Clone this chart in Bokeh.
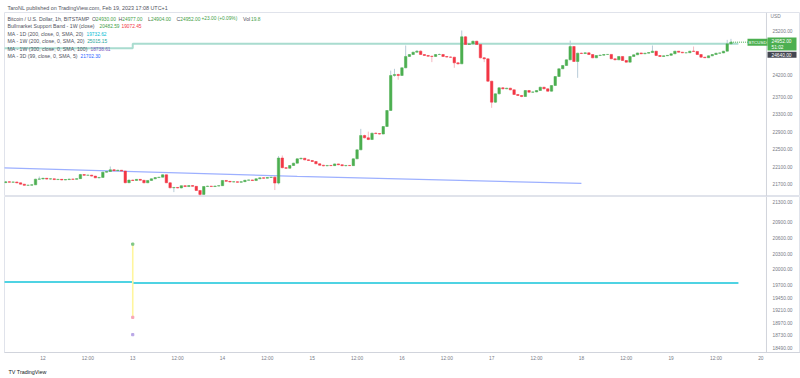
from bokeh.plotting import figure
from bokeh.layouts import column
from bokeh.models import (ColumnDataSource, Range1d, FixedTicker, Label, PrintfTickFormatter,
                          Title, Span)
from bokeh.embed import file_html
from bokeh.resources import INLINE

FONT = "Liberation Sans"
AX = "#787b86"
UP = "#4caf50"
DN = "#f23645"
UPW = "#b7cbd8"
DNW = "#f5b8c0"

# hours since 2023-02-12 00:00 (UTC+1), 1h candles BTCUSD Bitstamp
hours = list(range(-10, 185))
opens = [21730, 21750, 21740, 21745, 21725, 21695, 21668, 21672, 21680, 21810,
         21815, 21830, 21812, 21818, 21800, 21806, 21792, 21800, 21812, 21806,
         21822, 21915, 21898, 21902, 21880, 21840, 21850, 21970, 21985, 22025,
         22005, 22015, 21995, 21728, 21788, 21780, 21805, 21785, 21726, 21780,
         21818, 21846, 21855, 21910, 21726, 21612, 21620, 21608, 21660, 21640,
         21662, 21645, 21550, 21460, 21642, 21650, 21640, 21652, 21660, 21780,
         21760, 21745, 21750, 21738, 21752, 21785, 21792, 21778, 21818, 21840,
         21832, 21848, 21855, 21720, 22295, 22072, 22060, 22123, 22177, 22276,
         22290, 22253, 22238, 22215, 22162, 22130, 22115, 22125, 22120, 22160,
         22140, 22118, 22125, 22120, 22276, 22482, 22811, 22758, 22719, 22865,
         22855, 22845, 23018, 23385, 24188, 24211, 24188, 24364, 24624, 24669,
         24723, 24746, 24669, 24647, 24630, 24625, 24669, 24670, 24624, 24610,
         24608, 24478, 24455, 25075, 24899, 24914, 24975, 24899, 24593, 24570,
         24058, 23576, 23767, 23905, 23882, 23897, 23859, 23752, 23729, 23706,
         23844, 23805, 23810, 23844, 23920, 23882, 23828, 23958, 24165, 24341,
         24417, 24547, 24853, 24509, 24700, 24692, 24708, 24669, 24593, 24646,
         24655, 24669, 24672, 24570, 24547, 24624, 24532, 24494, 24624, 24662,
         24705, 24685, 24700, 24715, 24746, 24646, 24624, 24640, 24650, 24685,
         24746, 24723, 24708, 24710, 24746, 24740, 24669, 24608, 24595, 24639,
         24669, 24700, 24705, 24746, 24914]
highs = [21765, 21758, 21752, 21750, 21730, 21700, 21680, 21690, 21818, 21870,
         21840, 21835, 21825, 21822, 21815, 21812, 21805, 21820, 21818, 21830,
         21930, 21925, 21910, 21908, 21885, 21860, 21980, 21995, 22100, 22040,
         22025, 22020, 22000, 21800, 21800, 21812, 21810, 21790, 21785, 21825,
         21850, 21862, 21920, 21915, 21735, 21630, 21628, 21665, 21668, 21670,
         21668, 21650, 21555, 21648, 21660, 21655, 21658, 21668, 21790, 21785,
         21765, 21758, 21755, 21758, 21792, 21800, 21798, 21825, 21848, 21845,
         21852, 21862, 21880, 22340, 22353, 22085, 22130, 22185, 22285, 22300,
         22295, 22262, 22245, 22222, 22170, 22138, 22132, 22130, 22168, 22165,
         22148, 22130, 22135, 22285, 22490, 22964, 22830, 22900, 22875, 22880,
         22862, 23025, 23395, 24300, 24341, 24230, 24372, 24876, 24680, 24730,
         24770, 24765, 24675, 24655, 24640, 24678, 24690, 24675, 24632, 24625,
         24615, 24490, 25220, 25090, 24925, 24985, 24982, 24905, 24610, 24578,
         24065, 23775, 23915, 23920, 23905, 23905, 23865, 23760, 23735, 23852,
         23850, 23820, 23852, 23928, 23925, 23888, 23965, 24172, 24348, 24430,
         24555, 24990, 24860, 24710, 24712, 24715, 24712, 24675, 24652, 24662,
         24675, 24680, 24678, 24575, 24630, 24628, 24538, 24630, 24668, 24712,
         24710, 24705, 24720, 24876, 24750, 24652, 24645, 24656, 24690, 24752,
         24750, 24728, 24715, 24752, 24853, 24745, 24675, 24615, 24645, 24675,
         24705, 24712, 24752, 25006, 25029]
lows = [21720, 21735, 21738, 21718, 21690, 21660, 21655, 21665, 21675, 21800,
        21805, 21800, 21800, 21790, 21795, 21785, 21788, 21795, 21798, 21800,
        21815, 21890, 21890, 21870, 21835, 21830, 21845, 21960, 21975, 22000,
        21998, 21985, 21715, 21720, 21770, 21775, 21780, 21715, 21720, 21775,
        21810, 21838, 21850, 21720, 21600, 21512, 21600, 21600, 21635, 21635,
        21640, 21545, 21430, 21455, 21635, 21632, 21635, 21645, 21655, 21752,
        21740, 21740, 21732, 21735, 21748, 21780, 21770, 21772, 21812, 21825,
        21828, 21840, 21560, 21690, 22060, 22045, 22055, 22115, 22170, 22265,
        22245, 22230, 22205, 22155, 22120, 22105, 22108, 22110, 22115, 22132,
        22110, 22105, 22112, 22115, 22270, 22475, 22745, 22705, 22710, 22845,
        22835, 22840, 23010, 23380, 24160, 24090, 24180, 24355, 24615, 24660,
        24715, 24660, 24635, 24620, 24494, 24618, 24660, 24615, 24600, 24598,
        24364, 24440, 24450, 24890, 24890, 24905, 24890, 24580, 24494, 24040,
        23446, 23560, 23755, 23870, 23875, 23850, 23745, 23720, 23690, 23700,
        23798, 23795, 23805, 23838, 23875, 23820, 23820, 23950, 24155, 24335,
        24410, 24540, 24500, 24134, 24680, 24688, 24660, 24585, 24588, 24640,
        24650, 24665, 24565, 24540, 24542, 24525, 24488, 24490, 24618, 24658,
        24680, 24680, 24695, 24710, 24640, 24618, 24620, 24635, 24645, 24680,
        24718, 24700, 24702, 24705, 24735, 24662, 24600, 24590, 24590, 24632,
        24662, 24695, 24700, 24740, 24905]
closes = [21750, 21740, 21745, 21725, 21695, 21668, 21672, 21680, 21810, 21815,
          21830, 21812, 21818, 21800, 21806, 21792, 21800, 21812, 21806, 21822,
          21915, 21898, 21902, 21880, 21840, 21850, 21970, 21985, 22025, 22005,
          22015, 21995, 21728, 21788, 21780, 21805, 21785, 21726, 21780, 21818,
          21846, 21855, 21910, 21726, 21612, 21620, 21608, 21660, 21640, 21662,
          21645, 21550, 21460, 21642, 21650, 21640, 21652, 21660, 21780, 21760,
          21745, 21750, 21738, 21752, 21785, 21792, 21778, 21818, 21840, 21832,
          21848, 21855, 21720, 22295, 22072, 22060, 22123, 22177, 22276, 22290,
          22253, 22238, 22215, 22162, 22130, 22115, 22125, 22120, 22160, 22140,
          22118, 22125, 22120, 22276, 22482, 22811, 22758, 22719, 22865, 22855,
          22845, 23018, 23385, 24188, 24211, 24188, 24364, 24624, 24669, 24723,
          24746, 24669, 24647, 24630, 24625, 24669, 24670, 24624, 24610, 24608,
          24478, 24455, 25075, 24899, 24914, 24975, 24899, 24593, 24570, 24058,
          23576, 23767, 23905, 23882, 23897, 23859, 23752, 23729, 23706, 23844,
          23805, 23810, 23844, 23920, 23882, 23828, 23958, 24165, 24341, 24417,
          24547, 24853, 24509, 24700, 24692, 24708, 24669, 24593, 24646, 24655,
          24669, 24672, 24570, 24547, 24624, 24532, 24494, 24624, 24662, 24705,
          24685, 24700, 24715, 24746, 24646, 24624, 24640, 24650, 24685, 24746,
          24723, 24708, 24710, 24746, 24740, 24669, 24608, 24595, 24639, 24669,
          24700, 24705, 24746, 24914, 24952]

# overlay lines (top pane)
ma1w200_hours = [-11, 24, 24, 186]
ma1w200_vals = [24815, 24815, 24915, 24915]
ma3d_hours = [-11, 68, 144]
ma3d_vals = [22070, 21875, 21711]
# lower pane
ma1d_hours = [-11, 24, 24, 186]
ma1d_vals = [19755, 19755, 19735, 19735]
band_hour = 24
band_upper = 20482.59
band_lower = 19072.45
ma1w300_val = 18738.61

top_ticks = [21700, 22100, 22500, 22900, 23300, 23700, 24200, 25200]
bot_ticks = [18490, 18730, 18970, 19210, 19450, 19700, 20000, 20300, 20600, 20900, 21300]
x_ticks = [0, 12, 24, 36, 48, 60, 72, 84, 96, 108, 120, 132, 144, 156, 168, 180, 192]
x_labels = ["12", "12:00", "13", "12:00", "14", "12:00", "15", "12:00", "16", "12:00",
            "17", "12:00", "18", "12:00", "19", "12:00", "20"]

src = ColumnDataSource(dict(
    t=hours, o=opens, h=highs, l=lows, c=closes,
    top=[max(a, b) for a, b in zip(opens, closes)],
    bot=[min(a, b) for a, b in zip(opens, closes)],
    col=[UP if c >= o else DN for o, c in zip(opens, closes)],
    wcol=[UPW if c >= o else DNW for o, c in zip(opens, closes)],
))

X_END_PLOT = 193.5           # where the price scale strip begins
xr = Range1d(-10.3, 202.6)


def style_axis(ax):
    ax.major_tick_out = 0
    ax.major_tick_in = 0
    ax.minor_tick_out = 0
    ax.minor_tick_in = 0
    ax.axis_line_color = "#d1d4dc"
    ax.major_label_text_font = FONT
    ax.major_label_text_font_size = "4.8px"
    ax.major_label_text_color = AX


def price_axis(p, ticks):
    ax = p.yaxis[0]
    style_axis(ax)
    ax.axis_line_color = None
    ax.ticker = FixedTicker(ticks=ticks)
    ax.formatter = PrintfTickFormatter(format="%.2f")
    ax.major_label_standoff = -28
    p.add_layout(Span(location=X_END_PLOT, dimension="height", line_color="#d1d4dc", line_width=1))


def lab(p, x, y, text, color, size="5.2px", bg=None, pad=None):
    kw = {}
    if pad is not None:
        kw["padding"] = pad
    p.add_layout(Label(x=x, y=y, x_units="canvas", y_units="canvas", text=text,
                       text_color=color, text_font=FONT, text_font_size=size,
                       text_baseline="middle", text_align="left",
                       background_fill_color=bg, **kw))


p1 = figure(width=800, height=196, x_range=xr, y_range=Range1d(21412, 25633),
            output_backend="svg", toolbar_location=None,
            x_axis_location=None, y_axis_location="right",
            min_border_left=4, min_border_right=0, min_border_top=12, min_border_bottom=0)
p1.title.text = "TaroNL published on TradingView.com, Feb 19, 2023 17:08 UTC+1"
p1.title.text_font = FONT
p1.title.text_font_size = "5.4px"
p1.title.text_font_style = "normal"
p1.title.text_color = "#50535e"
p1.title.standoff = 3
p1.title.offset = 3
p1.grid.visible = False
p1.outline_line_color = "#e0e3eb"
price_axis(p1, top_ticks)

p1.line(ma3d_hours, ma3d_vals, line_color="#9db0ff", line_width=1.3)
p1.line(ma1w200_hours, ma1w200_vals, line_color="#a9dccf", line_width=2)
p1.segment(x0="t", y0="h", x1="t", y1="l", line_color="wcol", line_width=1, source=src)
p1.vbar(x="t", top="top", bottom="bot", width=0.66, fill_color="col", line_color="col",
        line_width=0.5, source=src)
p1.segment(x0=[hours[-1]], y0=[closes[-1]], x1=[X_END_PLOT], y1=[closes[-1]],
           line_color=UP, line_width=1, line_dash="1 1")

# legend
G = "#43a047"
D = "#50535e"
N = "4.8px"
lab(p1, 7, 18.3, "Bitcoin / U.S. Dollar, 1h, BITSTAMP", D)
lab(p1, 91.5, 18.3, "O", D); lab(p1, 95.3, 18.3, "24930.00", G, N)
lab(p1, 118, 18.3, "H", D); lab(p1, 121.8, 18.3, "24977.00", G, N)
lab(p1, 147.5, 18.3, "L", D); lab(p1, 150.5, 18.3, "24904.00", G, N)
lab(p1, 176, 18.3, "C", D); lab(p1, 179.8, 18.3, "24952.00", G, N)
lab(p1, 201, 18.3, "+23.00 (+0.09%)", G, N)
lab(p1, 242.5, 18.3, "Vol", D); lab(p1, 250.5, 18.3, "19.8", G, N)
lab(p1, 7, 25.7, "Bullmarket Support Band - 1W (close)", D)
lab(p1, 99, 25.7, "20482.59", G, N); lab(p1, 121, 25.7, "19072.45", "#f23645", N)
lab(p1, 7, 33.3, "MA - 1D (200, close, 0, SMA, 20)", D); lab(p1, 86, 33.3, "19732.62", "#00bcd4", N)
lab(p1, 7, 40.7, "MA - 1W (200, close, 0, SMA, 20)", D); lab(p1, 86.7, 40.7, "25015.15", "#26a69a", N)
lab(p1, 7, 48.3, "MA - 1W (300, close, 0, SMA, 100)", D); lab(p1, 90, 48.3, "18738.61", "#7e57c2", N)
lab(p1, 7, 55.3, "MA - 3D (99, close, 0, SMA, 5)", D); lab(p1, 80, 55.3, "21702.30", "#2962ff", N)

# price scale labels
lab(p1, 770, 16, "USD", AX, "4.8px")
lab(p1, 747, 41.7, "BTCUSD", "white", "4.4px", bg=UP, pad=1)
lab(p1, 767, 43.5, "24952.00\n51:02", "white", "4.8px", bg=UP,
    pad=dict(left=4, right=5, top=1, bottom=1))
lab(p1, 767, 54.3, "24640.00", "white", "4.8px", bg="#434651",
    pad=dict(left=4, right=5, top=1, bottom=1))

p2 = figure(width=800, height=182, x_range=xr, y_range=Range1d(18395, 21400),
            output_backend="svg", toolbar_location=None, title=None,
            y_axis_location="right",
            min_border_left=4, min_border_right=0, min_border_top=0, min_border_bottom=10)
p2.grid.visible = False
p2.outline_line_color = "#e0e3eb"
price_axis(p2, bot_ticks)
style_axis(p2.xaxis[0])
p2.xaxis[0].ticker = FixedTicker(ticks=x_ticks)
p2.xaxis[0].major_label_overrides = {k: v for k, v in zip(x_ticks, x_labels)}
p2.xaxis[0].major_label_standoff = 3
p2.add_layout(Title(text="TV  TradingView", text_font=FONT, text_font_size="5.4px",
                    text_font_style="normal", text_color="#131722", standoff=7, offset=4),
              "below")

p2.line(ma1d_hours, ma1d_vals, line_color="#4fd3e3", line_width=2)
p2.segment(x0=[band_hour], y0=[band_lower], x1=[band_hour], y1=[band_upper],
           line_color="#fff59d", line_width=1.6)
p2.scatter([band_hour], [band_upper], marker="square", size=2.2, color="#81c784")
p2.scatter([band_hour], [band_lower], marker="square", size=2.2, color="#f8a5b5")
p2.scatter([band_hour], [ma1w300_val], marker="square", size=2.2, color="#b8a6e6")

layout = column(p1, p2, spacing=0)
open("out.html", "w").write(file_html(layout, INLINE))
